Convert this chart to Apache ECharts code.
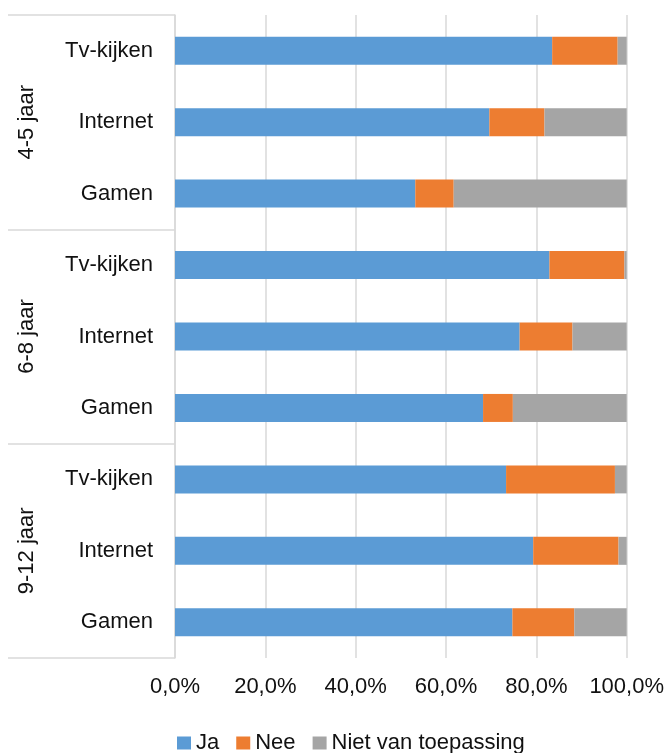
<!DOCTYPE html>
<html><head><meta charset="utf-8">
<script src="https://cdn.jsdelivr.net/npm/echarts@6/dist/echarts.min.js"></script>
<style>html,body{margin:0;padding:0;background:#fff}#c{width:667px;height:753px}</style>
</head><body><div id="c"></div>
<script>
const categories = ['Tv-kijken','Internet','Gamen','Tv-kijken','Internet','Gamen','Tv-kijken','Internet','Gamen'];
const groups = ['4-5 jaar','6-8 jaar','9-12 jaar'];
const ja  = [83.5, 69.6, 53.2, 82.9, 76.3, 68.2, 73.3, 79.3, 74.7];
const nee = [14.5, 12.2, 8.5, 16.6, 11.7, 6.6, 24.1, 18.9, 13.7];
const nvt = [2.0, 18.2, 38.3, 0.5, 12.0, 25.2, 2.6, 1.8, 11.6];
const seriesNames = ['Ja','Nee','Niet van toepassing'];
const xTicks = [0, 20, 40, 60, 80, 100];

const font = 'Liberation Sans';
const fs = 22;
const chart = echarts.init(document.getElementById('c'));
chart.setOption({
  animation:false,
  textStyle:{fontFamily:font},
  color:['#5B9BD5','#ED7D31','#A5A5A5'],
  grid:{left:175,right:38,top:15,bottom:95,containLabel:false},
  legend:{top:727,left:172,icon:'rect',itemWidth:14,itemHeight:13,itemGap:17,
    textStyle:{fontSize:fs,color:'#111',fontFamily:font},data:seriesNames},
  xAxis:{type:'value',min:xTicks[0],max:xTicks[xTicks.length-1],interval:20,
    axisLine:{show:false},axisTick:{show:false},
    splitLine:{lineStyle:{color:'#d9d9d9',width:1.5}},
    axisLabel:{margin:18,fontSize:fs,color:'#111',
      formatter:v=>v.toFixed(1).replace('.',',')+'%'}},
  yAxis:[
    {type:'category',data:categories,inverse:true,
      axisLine:{lineStyle:{color:'#d9d9d9',width:1.5}},axisTick:{show:false},
      axisLabel:{margin:22,fontSize:fs,color:'#111'}},
    {type:'category',data:groups,inverse:true,position:'left',
      axisLine:{show:false},
      axisTick:{show:true,length:167,lineStyle:{color:'#d9d9d9',width:1.5}},
      axisLabel:{margin:148,fontSize:fs,color:'#111',rotate:90,align:'center',verticalAlign:'middle'}}
  ],
  series:[
    {name:seriesNames[0],type:'bar',stack:'t',data:ja,barWidth:28},
    {name:seriesNames[1],type:'bar',stack:'t',data:nee,barWidth:28},
    {name:seriesNames[2],type:'bar',stack:'t',data:nvt,barWidth:28}
  ]
});
</script></body></html>
